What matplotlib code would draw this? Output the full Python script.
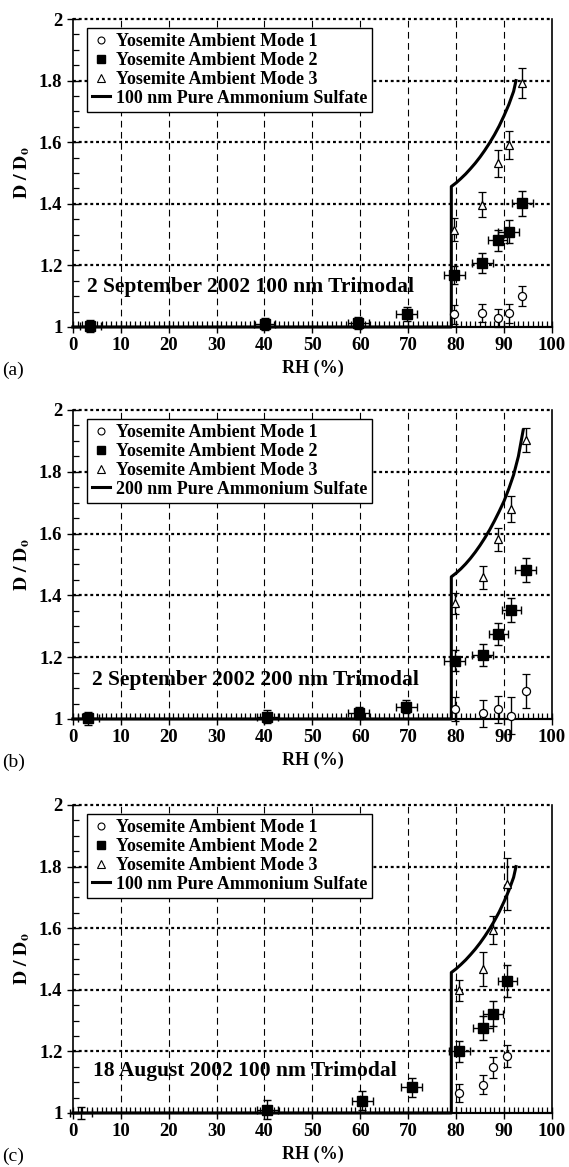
import numpy as np
import matplotlib
matplotlib.use("Agg")
import matplotlib.pyplot as plt
from matplotlib.lines import Line2D
from matplotlib.ticker import MultipleLocator, FormatStrFormatter

plt.rcParams['font.family'] = ['Liberation Serif', 'DejaVu Serif']
plt.rcParams['font.weight'] = 'bold'
plt.rcParams['mathtext.fontset'] = 'stix'

# ---- panel (a): 2 September 2002, 100 nm trimodal ----
a_m1_rh = [79.6, 85.5, 88.7, 91.0, 93.8]
a_m1_d = [1.041, 1.046, 1.030, 1.044, 1.100]
a_m1_err = [0.03, 0.03, 0.03, 0.03, 0.032]
a_m2_rh = [3.6, 40.1, 59.6, 69.7, 79.6, 85.5, 88.7, 91.0, 93.8]
a_m2_d = [1.003, 1.009, 1.014, 1.043, 1.168, 1.208, 1.281, 1.310, 1.401]
a_m2_xerr = [2.2, 2.2, 2.2, 2.2, 2.2, 2.2, 2.0, 2.2, 2.2]
a_m2_yerr = [0.02, 0.02, 0.02, 0.022, 0.03, 0.033, 0.035, 0.037, 0.04]
a_m3_rh = [79.6, 85.5, 88.7, 91.0, 93.8]
a_m3_d = [1.316, 1.397, 1.531, 1.591, 1.792]
a_m3_err = [0.038, 0.04, 0.045, 0.045, 0.05]

# ---- panel (b): 2 September 2002, 200 nm trimodal ----
b_m1_rh = [79.7, 85.6, 88.8, 91.5, 94.5]
b_m1_d = [1.032, 1.018, 1.031, 1.011, 1.092]
b_m1_err = [0.04, 0.045, 0.045, 0.06, 0.055]
b_m2_rh = [3.2, 40.6, 59.7, 69.6, 79.7, 85.6, 88.8, 91.5, 94.5]
b_m2_d = [1.002, 1.008, 1.020, 1.040, 1.189, 1.207, 1.275, 1.353, 1.482]
b_m2_xerr = [2.2, 2.2, 2.2, 2.2, 2.2, 2.2, 2.0, 2.0, 2.2]
b_m2_yerr = [0.02, 0.02, 0.02, 0.022, 0.035, 0.035, 0.035, 0.04, 0.04]
b_m3_rh = [79.7, 85.6, 88.8, 91.5, 94.5]
b_m3_d = [1.374, 1.458, 1.582, 1.681, 1.903]
b_m3_err = [0.035, 0.037, 0.037, 0.042, 0.04]

# ---- panel (c): 18 August 2002, 100 nm trimodal ----
c_m1_rh = [80.7, 85.6, 87.7, 90.7]
c_m1_d = [1.065, 1.092, 1.149, 1.186]
c_m1_err = [0.03, 0.032, 0.034, 0.036]
c_m2_rh = [40.6, 60.4, 70.7, 80.7, 85.6, 87.7, 90.7]
c_m2_d = [1.011, 1.040, 1.083, 1.200, 1.276, 1.322, 1.429]
c_m2_xerr = [2.2, 2.2, 2.2, 2.2, 2.0, 2.0, 2.0]
c_m2_yerr = [0.03, 0.03, 0.03, 0.035, 0.038, 0.04, 0.053]
c_m3_rh = [80.7, 85.6, 87.7, 90.7]
c_m3_d = [1.398, 1.467, 1.595, 1.743]
c_m3_err = [0.035, 0.055, 0.045, 0.085]
c_extra_rh = [1.7]
c_extra_d = [1.0]

# pure ammonium sulfate growth curves
as100_rh = [0, 79, 79, 80, 81, 82, 83, 84, 85, 86, 87, 88, 89, 90, 91, 92, 92.5]
as100_d = [1.0, 1.0, 1.456, 1.468, 1.482, 1.497, 1.514, 1.532, 1.552, 1.574,
           1.598, 1.624, 1.653, 1.686, 1.722, 1.765, 1.80]
as200_rh = [0, 79, 79, 80, 81, 82, 83, 84, 85, 86, 87, 88, 89, 90, 91, 92, 93, 94]
as200_d = [1.0, 1.0, 1.46, 1.472, 1.486, 1.502, 1.52, 1.54, 1.562, 1.586,
           1.612, 1.641, 1.672, 1.705, 1.745, 1.79, 1.85, 1.935]

panels = [
    dict(m1=(a_m1_rh, a_m1_d, a_m1_err), m2=(a_m2_rh, a_m2_d, a_m2_xerr, a_m2_yerr),
         m3=(a_m3_rh, a_m3_d, a_m3_err), curve=(as100_rh, as100_d),
         curve_label='100 nm Pure Ammonium Sulfate',
         note='2 September 2002 100 nm Trimodal', note_xy=(3.0, 1.13),
         tag='(a)', rect=[0.128, 0.7198, 0.842, 0.2639], extra=None),
    dict(m1=(b_m1_rh, b_m1_d, b_m1_err), m2=(b_m2_rh, b_m2_d, b_m2_xerr, b_m2_yerr),
         m3=(b_m3_rh, b_m3_d, b_m3_err), curve=(as200_rh, as200_d),
         curve_label='200 nm Pure Ammonium Sulfate',
         note='2 September 2002 200 nm Trimodal', note_xy=(3.9, 1.126),
         tag='(b)', rect=[0.128, 0.3839, 0.842, 0.2648], extra=None),
    dict(m1=(c_m1_rh, c_m1_d, c_m1_err), m2=(c_m2_rh, c_m2_d, c_m2_xerr, c_m2_yerr),
         m3=(c_m3_rh, c_m3_d, c_m3_err), curve=(as100_rh, as100_d),
         curve_label='100 nm Pure Ammonium Sulfate',
         note='18 August 2002 100 nm Trimodal', note_xy=(4.3, 1.135),
         tag='(c)', rect=[0.128, 0.0463, 0.842, 0.2639], extra=(c_extra_rh, c_extra_d)),
]

fig = plt.figure(figsize=(5.69, 11.67), dpi=100)

for p in panels:
    ax = fig.add_axes(p['rect'])
    ax.set_xlim(0, 100)
    ax.set_ylim(1, 2)

    # grid: dashed verticals, dotted horizontals
    for gx in range(10, 100, 10):
        ax.axvline(gx, color='black', lw=0.8, ls=(0, (6, 4)), zorder=1)
    for gy in [1.2, 1.4, 1.6, 1.8, 2.0]:
        ax.axhline(gy, color='black', lw=1.6, ls=(0, (1.3, 1.3)), zorder=1, clip_on=False)

    cx, cy = p['curve']
    ax.plot(cx, cy, color='black', lw=2.2, zorder=3, clip_on=False)

    ekw = dict(ecolor='black', elinewidth=1.0, capsize=3, capthick=1.0, zorder=4, clip_on=False)
    rh, d, err = p['m1']
    ax.errorbar(rh, d, yerr=err, fmt='o', ms=5.8, mfc='white', mec='black', mew=0.9, **ekw)
    rh, d, xerr, yerr = p['m2']
    ax.errorbar(rh, d, xerr=xerr, yerr=yerr, fmt='s', ms=7.3, mfc='black', mec='black', **ekw)
    rh, d, err = p['m3']
    ax.errorbar(rh, d, yerr=err, fmt='^', ms=6.3, mfc='white', mec='black', mew=0.9, **ekw)
    if p['extra'] is not None:
        ax.errorbar(p['extra'][0], p['extra'][1], xerr=2.2, yerr=0.02, fmt='none', **ekw)

    ax.text(p['note_xy'][0], p['note_xy'][1], p['note'], fontsize=15.5,
            fontweight='bold', ha='left', va='center', zorder=5)

    handles = [
        Line2D([], [], ls='none', marker='o', ms=5, mfc='white', mec='black', mew=0.8),
        Line2D([], [], ls='none', marker='s', ms=6, mfc='black', mec='black'),
        Line2D([], [], ls='none', marker='^', ms=5.5, mfc='white', mec='black', mew=0.8),
        Line2D([], [], color='black', lw=2.2),
    ]
    labels = ['Yosemite Ambient Mode 1', 'Yosemite Ambient Mode 2',
              'Yosemite Ambient Mode 3', p['curve_label']]
    leg = ax.legend(handles, labels, loc='upper left', bbox_to_anchor=(0.029, 0.971),
                    fontsize=13, handlelength=1.0, handletextpad=0.3,
                    labelspacing=0.1, borderpad=0.3, borderaxespad=0.0,
                    fancybox=False, framealpha=1, edgecolor='black')
    leg.get_frame().set_linewidth(1.0)
    leg.set_zorder(6)

    ax.spines['top'].set_visible(False)
    ax.spines['bottom'].set_linewidth(1.6)
    ax.spines['left'].set_linewidth(1.2)
    ax.spines['right'].set_linewidth(1.2)

    ax.xaxis.set_major_locator(MultipleLocator(10))
    ax.xaxis.set_minor_locator(MultipleLocator(1))
    ax.yaxis.set_major_locator(MultipleLocator(0.2))
    ax.yaxis.set_minor_locator(MultipleLocator(0.05))
    ax.yaxis.set_major_formatter(FormatStrFormatter('%g'))
    ax.tick_params(axis='x', which='major', direction='inout', length=9, width=1.0,
                   labelsize=13.5, pad=3)
    ax.tick_params(axis='x', which='minor', direction='in', length=4, width=0.9)
    ax.tick_params(axis='y', which='major', direction='inout', length=9, width=1.0,
                   labelsize=13.5, pad=3)
    ax.tick_params(axis='y', which='minor', direction='in', length=4, width=0.9)
    for lab in ax.get_xticklabels() + ax.get_yticklabels():
        lab.set_fontweight('bold')

    ax.set_xlabel('RH (%)', fontsize=13, fontweight='bold', labelpad=4)
    ax.set_ylabel(r'$\mathbf{D\ /\ D_o}$', fontsize=14, labelpad=5)

    bx = p['rect'][1]
    fig.text(0.004, bx - 0.037, p['tag'], fontsize=14, fontweight='normal',
             ha='left', va='center')

fig.savefig('out.png', dpi=100)
